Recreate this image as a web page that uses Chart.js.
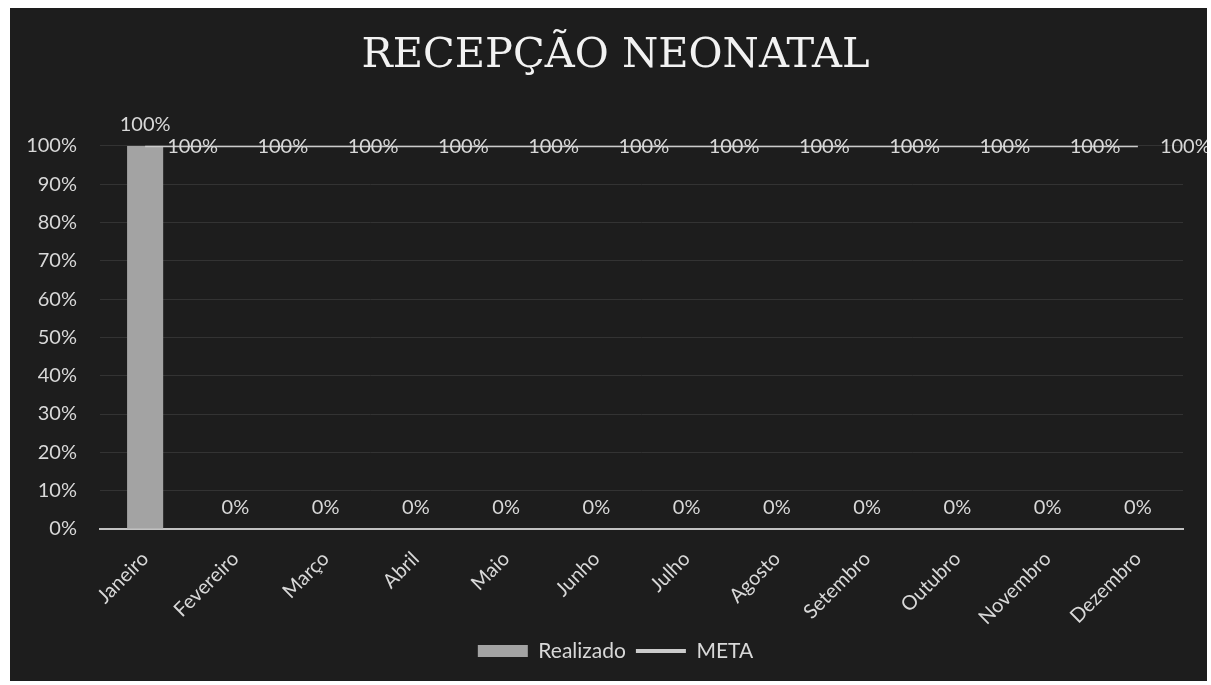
<!DOCTYPE html>
<html>
<head>
<meta charset="utf-8">
<script src="https://cdn.jsdelivr.net/npm/chart.js@4/dist/chart.umd.min.js"></script>
<style>
  html, body { margin: 0; padding: 0; background: #ffffff; width: 1211px; height: 685px; overflow: hidden; }
  #wrap { position: absolute; left: 10px; top: 8px; width: 1197px; height: 673px; background: #1d1d1d; }
  canvas { display: block; }
</style>
</head>
<body>
<div id="wrap"><canvas id="c" width="1197" height="673"></canvas></div>
<script>
const categories = ["Janeiro","Fevereiro","Março","Abril","Maio","Junho","Julho","Agosto","Setembro","Outubro","Novembro","Dezembro"];
const realizado = [100, 0, 0, 0, 0, 0, 0, 0, 0, 0, 0, 0];
const meta = [100, 100, 100, 100, 100, 100, 100, 100, 100, 100, 100, 100];
const yTicks = [0, 10, 20, 30, 40, 50, 60, 70, 80, 90, 100];

const TEXT = '#d8d8d8';
const FONT = 'Lato, "Open Sans", sans-serif';

const labelPlugin = {
  id: 'valueLabels',
  afterDatasetsDraw(chart) {
    const ctx = chart.ctx;
    ctx.save();
    ctx.font = '20px ' + FONT;
    ctx.fillStyle = TEXT;
    const barMeta = chart.getDatasetMeta(0);
    barMeta.data.forEach((el, i) => {
      ctx.textAlign = 'center';
      ctx.textBaseline = 'bottom';
      ctx.fillText(realizado[i] + '%', el.x, el.y - 11);
    });
    const lineMeta = chart.getDatasetMeta(1);
    lineMeta.data.forEach((el, i) => {
      ctx.textAlign = 'left';
      ctx.textBaseline = 'middle';
      ctx.fillText(meta[i] + '%', el.x + 22, el.y + 1);
    });
    ctx.restore();
  }
};

new Chart(document.getElementById('c'), {
  data: {
    labels: categories,
    datasets: [
      {
        type: 'bar',
        label: 'Realizado',
        data: realizado,
        backgroundColor: '#a3a3a3',
        categoryPercentage: 1.0,
        barPercentage: 0.4,
        order: 2
      },
      {
        type: 'line',
        label: 'META',
        data: meta,
        borderColor: '#cbcbcb',
        backgroundColor: '#cbcbcb',
        borderWidth: 3,
        pointRadius: 0,
        tension: 0,
        order: 1
      }
    ]
  },
  options: {
    responsive: false,
    animation: false,
    layout: { padding: { left: 14, right: 0, top: 0, bottom: 9.5 } },
    plugins: {
      title: {
        display: true,
        text: 'RECEPÇÃO NEONATAL',
        color: '#f2f2f2',
        font: { family: '"DejaVu Serif", "Liberation Serif", serif', size: 41.5, weight: 'normal' },
        padding: { top: 23, bottom: 65 }
      },
      legend: {
        position: 'bottom',
        labels: {
          color: TEXT,
          font: { family: FONT, size: 21 },
          usePointStyle: true,
          pointStyleWidth: 50,
          boxHeight: 12,
          padding: 10,
          generateLabels(chart) {
            return chart.data.datasets.map((ds, i) => ({
              text: ds.label,
              fillStyle: ds.backgroundColor,
              strokeStyle: ds.type === 'line' ? ds.borderColor : ds.backgroundColor,
              lineWidth: ds.type === 'line' ? 4 : 0,
              pointStyle: ds.type === 'line' ? 'line' : 'rect',
              fontColor: TEXT,
              hidden: false,
              datasetIndex: i
            }));
          }
        }
      },
      tooltip: { enabled: false }
    },
    scales: {
      x: {
        grid: { display: false, drawTicks: false },
        border: { display: true, color: '#c2c2c2', width: 2 },
        ticks: { color: TEXT, font: { family: FONT, size: 20 }, maxRotation: 45, minRotation: 45, padding: 18 },
        afterFit(scale) { scale.height = 101.5; }
      },
      y: {
        min: 0,
        max: 100,
        afterBuildTicks(scale) { scale.ticks = yTicks.map(v => ({ value: v })); },
        grid: { color: '#333333', lineWidth: 1, drawTicks: false },
        border: { display: false },
        ticks: { color: TEXT, font: { family: FONT, size: 20 }, padding: 23, callback: v => v + '%' },
        afterFit(scale) { scale.width = 76; }
      },
      yRight: {
        position: 'right',
        display: true,
        min: 0,
        max: 100,
        grid: { display: false, drawTicks: false },
        border: { display: false },
        ticks: { display: false },
        afterFit(scale) { scale.width = 24; }
      }
    }
  },
  plugins: [labelPlugin]
});
</script>
</body>
</html>
